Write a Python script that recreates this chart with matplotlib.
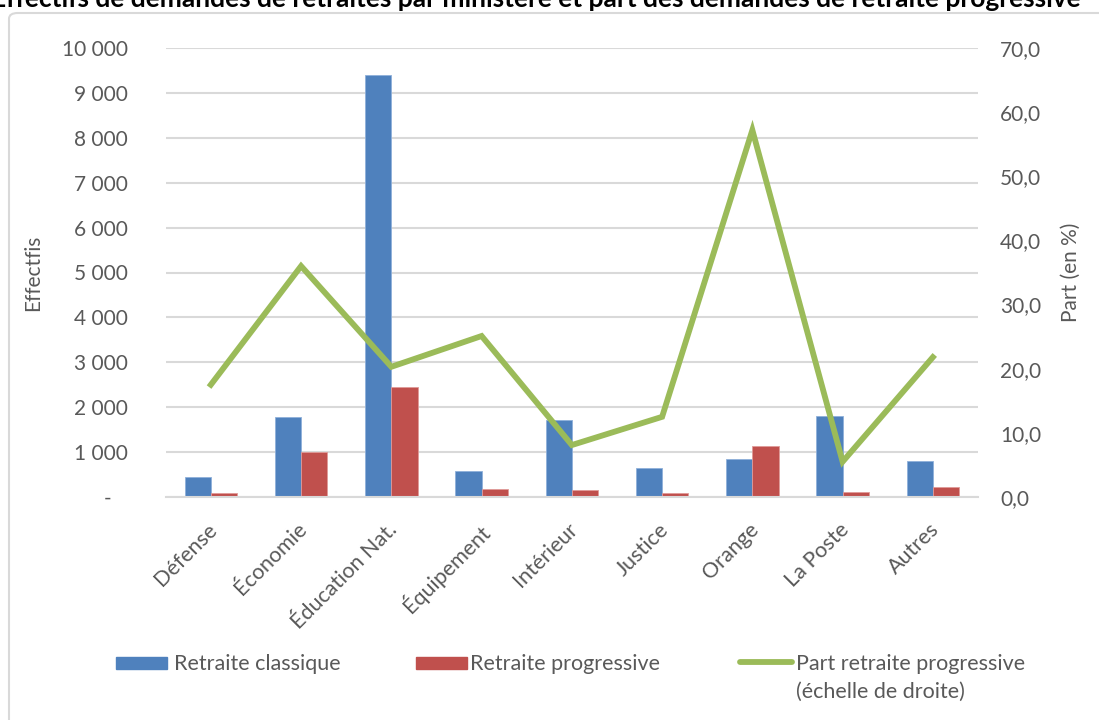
import numpy as np
import matplotlib
matplotlib.use("Agg")
import matplotlib.pyplot as plt
import matplotlib.transforms as mtransforms
from matplotlib.patches import FancyBboxPatch, Rectangle
from matplotlib.lines import Line2D

plt.rcParams['font.family'] = ['Lato', 'DejaVu Sans']

ministeres = ['Défense', 'Économie', 'Éducation Nat.', 'Équipement', 'Intérieur',
              'Justice', 'Orange', 'La Poste', 'Autres']
classique = [440, 1775, 9400, 586, 1722, 652, 854, 1804, 793]
progressive = [95, 1010, 2443, 185, 155, 80, 1146, 103, 225]
part = [17.5, 36.0, 20.3, 25.1, 8.1, 12.5, 57.2, 5.5, 21.8]

blue = '#4F81BD'
red = '#C0504D'
green = '#9BBB59'
gray = '#595959'

fig = plt.figure(figsize=(10.99, 7.2), dpi=100)
W, H = 1099, 720


def fx(px):
    return px / W


def fy(py):
    # pixel row from top -> figure fraction
    return 1 - py / H


# chart area frame
frame = FancyBboxPatch((fx(9), -0.05), 1.2, fy(13) + 0.05,
                       boxstyle='round,pad=0,rounding_size=0.008',
                       transform=fig.transFigure, fill=False,
                       edgecolor='#D9D9D9', lw=1.5, zorder=0)
fig.patches.append(frame)

fig.text(0.488, fy(7), 'Effectifs de demandes de retraites par ministère et part des demandes de retraite progressive',
         ha='center', va='baseline', fontsize=19, fontweight='bold', color='black')

ax = fig.add_axes([fx(165.7), fy(497), fx(978 - 165.7), (497 - 48) / H])
ax2 = ax.twinx()

x = np.arange(len(ministeres))
bw = 0.29
ax.bar(x - bw / 2, classique, bw, color=blue, edgecolor='#8FB0DA', lw=0.6, zorder=2)
ax.bar(x + bw / 2, progressive, bw, color=red, edgecolor='#E09A98', lw=0.6, zorder=2)
ax2.plot(x, part, color=green, lw=4.2, solid_joinstyle='miter', zorder=3)

ax.set_xlim(-0.5, len(ministeres) - 0.5)
ax.set_ylim(0, 10000)
ax.set_yticks(np.arange(0, 10001, 1000))
ax.set_yticklabels(['-   '] + ['{:,}'.format(v).replace(',', ' ') for v in range(1000, 10001, 1000)])
ax2.set_ylim(0, 70)
ax2.set_yticks(np.arange(0, 71, 10))
ax2.set_yticklabels(['{:.1f}'.format(v).replace('.', ',') for v in range(0, 71, 10)])

ax.grid(axis='y', color='#D9D9D9', lw=1.5, zorder=0)
ax.set_axisbelow(True)
for a in (ax, ax2):
    for s in a.spines.values():
        s.set_visible(False)
ax.spines['bottom'].set_visible(True)
ax.spines['bottom'].set_color('#D9D9D9')
ax.spines['bottom'].set_linewidth(1.5)

ax.tick_params(axis='y', length=0, pad=27, labelsize=15, labelcolor=gray)
ax2.tick_params(axis='y', length=0, pad=16, labelsize=15, labelcolor=gray)
ax.set_xticks(x)
ax.set_xticklabels(ministeres, rotation=45, ha='right', rotation_mode='anchor')
ax.tick_params(axis='x', length=0, pad=16, labelsize=15.5, labelcolor=gray)
shift = mtransforms.ScaledTranslation(-4 / 100, 0, fig.dpi_scale_trans)
for lbl in ax.get_xticklabels():
    lbl.set_transform(lbl.get_transform() + shift)

ax.set_ylabel('Effectfis', fontsize=15, color=gray)
ax.yaxis.set_label_coords(-0.151, 0.5)
ax2.set_ylabel('Part (en %)', fontsize=15, color=gray)
ax2.yaxis.set_label_coords(1.102, 0.5)

# legend drawn by hand to match the layout
fig.add_artist(Rectangle((fx(116), fy(669)), fx(51), 12 / H, color=blue, transform=fig.transFigure))
fig.text(fx(174), fy(662), 'Retraite classique', fontsize=15.5, color=gray, va='center_baseline')
fig.add_artist(Rectangle((fx(416), fy(669)), fx(51), 12 / H, color=red, transform=fig.transFigure))
fig.text(fx(470), fy(662), 'Retraite progressive', fontsize=15.5, color=gray, va='center_baseline')
fig.add_artist(Line2D([fx(740), fx(792)], [fy(662), fy(662)], color=green, lw=4.2,
                      solid_capstyle='round', transform=fig.transFigure))
fig.text(fx(796), fy(662), 'Part retraite progressive', fontsize=15.5, color=gray, va='center_baseline')
fig.text(fx(796), fy(690), '(échelle de droite)', fontsize=15.5, color=gray, va='center_baseline')

fig.savefig('out.png', dpi=100)
